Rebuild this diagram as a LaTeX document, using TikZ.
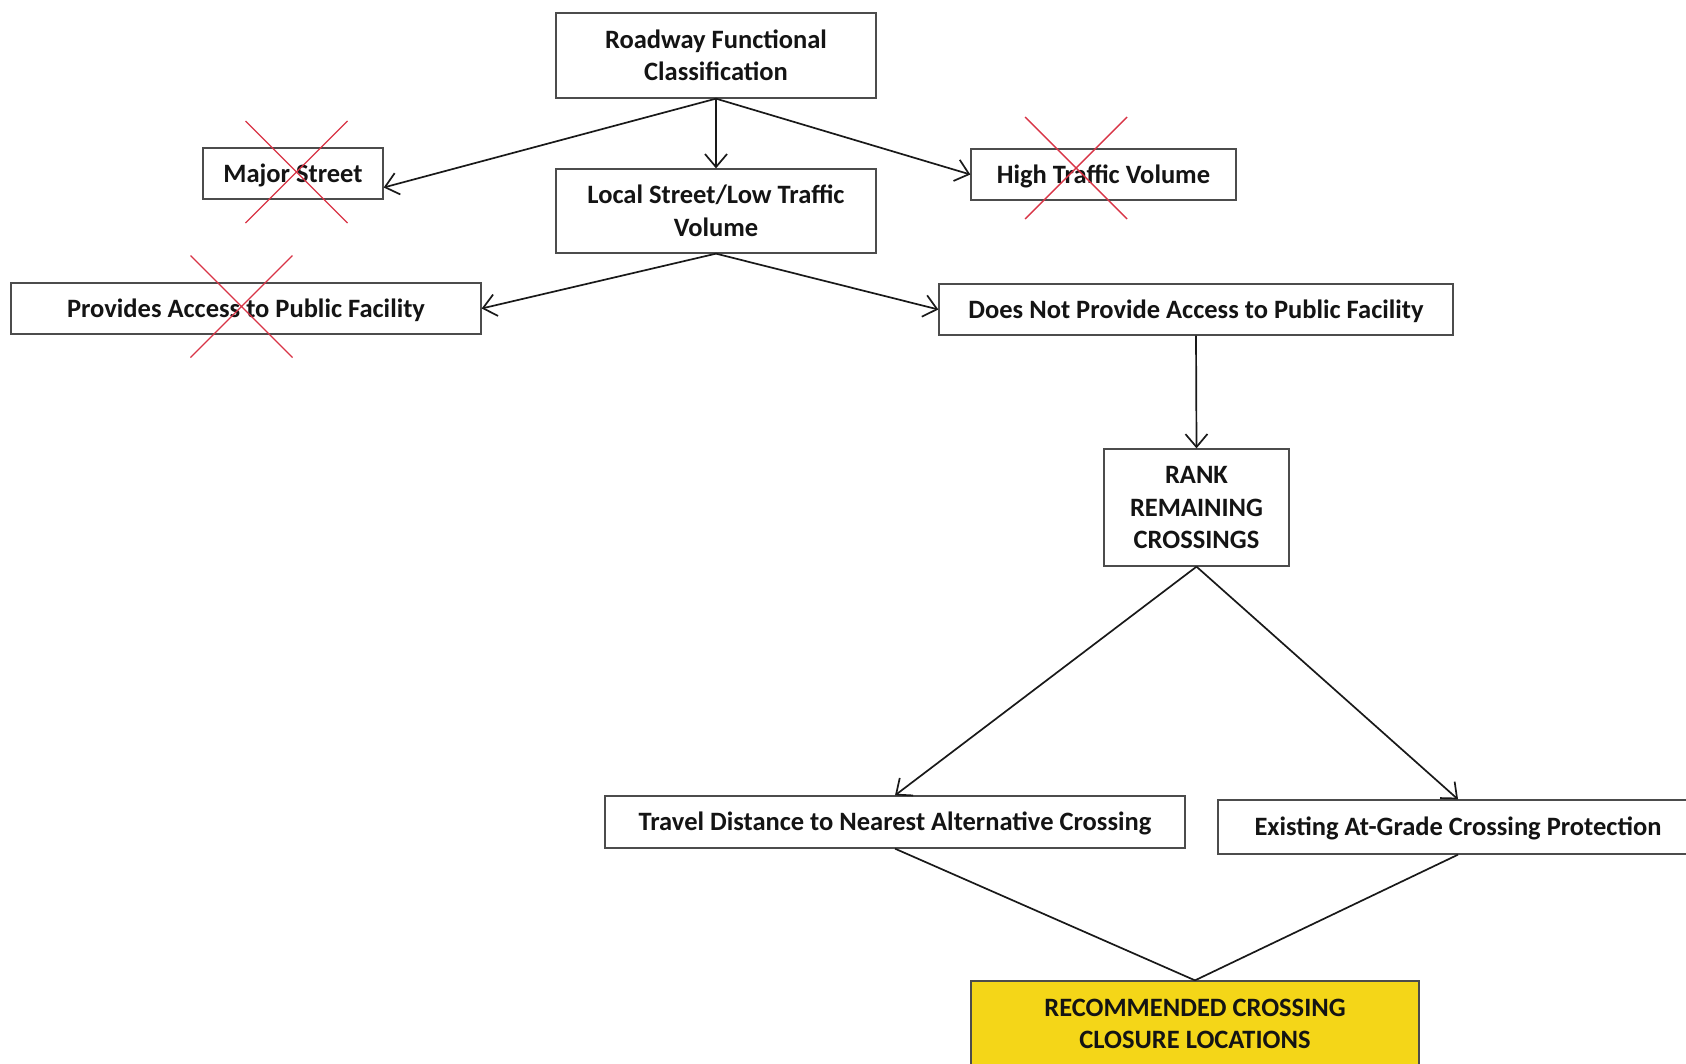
\documentclass[tikz,border=0pt]{standalone}
\usepackage{fontspec}
\setmainfont{Carlito}
\usepackage{xcolor}
\usepackage{tikz}
\usetikzlibrary{arrows.meta}
\definecolor{vang}{RGB}{244,214,24}
\definecolor{gach}{RGB}{216,52,70}

\begin{document}
\begin{tikzpicture}[x=1pt,y=-1pt,
		hop/.style={draw=black!70,line width=1.3pt,fill=white,align=center,inner sep=0pt,
			text=black!92,font=\bfseries\fontsize{26.5}{32.5}\selectfont},
		mot/.style={text height=22.5pt,text depth=5.3pt},
		noi/.style={line width=1.7pt,black!90},
		cheo/.style={gach,line width=1.4pt},
		>={Straight Barb[length=13pt,width=22pt]}]
			\useasboundingbox (0,0) rectangle (1686,1063);
			% Vẽ hộp
			\node[hop,minimum width=320pt,minimum height=85pt] (road) at (716,55.5) {Roadway Functional\\Classification};
			\node[hop,mot,minimum width=180pt,minimum height=51pt] (major) at (293,173.5) {Major Street};
			\node[hop,minimum width=320pt,minimum height=84pt] (local) at (716,211) {Local Street/Low Traffic\\Volume};
			\node[hop,mot,minimum width=265pt,minimum height=51pt] (high) at (1103.5,174.5) {High Traffic Volume};
			\node[hop,mot,minimum width=470pt,minimum height=51pt] (prov) at (246,308.5) {Provides Access to Public Facility};
			\node[hop,mot,minimum width=514pt,minimum height=51pt] (notprov) at (1196,309.5) {Does Not Provide Access to Public Facility};
			\node[hop,minimum width=185pt,minimum height=117pt] (rank) at (1196.5,507.5) {RANK\\REMAINING\\CROSSINGS};
			\node[hop,mot,minimum width=580pt,minimum height=52pt] (travel) at (895,822) {Travel Distance to Nearest Alternative Crossing};
			\node[hop,mot,minimum width=480pt,minimum height=54pt] (exist) at (1458,827) {Existing At-Grade Crossing Protection};
			\node[hop,fill=vang,minimum width=448pt,minimum height=86pt] (recom) at (1195,1024) {RECOMMENDED CROSSING\\CLOSURE LOCATIONS};
			% Vẽ mũi tên
			\draw[noi,->] (road.south) -- ([yshift=-14pt]major.east);
			\draw[noi,->] (road.south) -- (local.north);
			\draw[noi,->] (road.south) -- (high.west);
			\draw[noi,->] (local.south) -- (prov.east);
			\draw[noi,->] (local.south) -- (notprov.west);
			\draw[noi,->] (notprov.south) -- (rank.north);
			\draw[noi,->] (rank.south) -- (travel.north);
			\draw[noi,->] (rank.south) -- (exist.north);
			\draw[noi] (travel.south) -- (recom.north);
			\draw[noi] (exist.south) -- (recom.north);
			% Gạch chéo
			\foreach \cx/\cy in {296.5/172,1076/168,241.5/306.5}
			\draw[cheo] (\cx-51,\cy-51) -- (\cx+51,\cy+51) (\cx+51,\cy-51) -- (\cx-51,\cy+51);
		\end{tikzpicture}
\end{document}
